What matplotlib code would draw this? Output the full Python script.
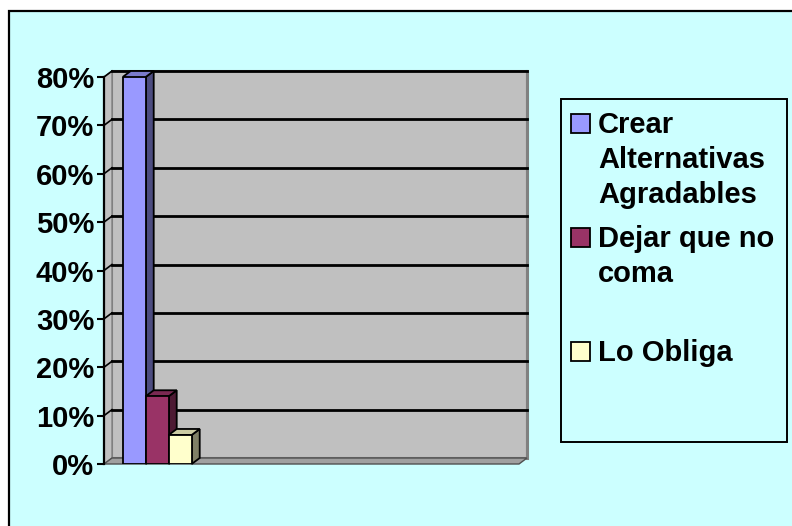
import matplotlib

matplotlib.use("Agg")
import matplotlib.pyplot as plt
from matplotlib.patches import Polygon, Rectangle
from matplotlib.ticker import PercentFormatter, MultipleLocator

# ---- data ----
series_labels = ["Crear\nAlternativas\nAgradables", "Dejar que no\ncoma", "Lo Obliga"]
values = [0.80, 0.14, 0.06]
face_colors = ["#9999FF", "#993366", "#FFFFCC"]
side_colors = ["#4D4D80", "#4D1A33", "#808066"]
top_colors = ["#7A7ACC", "#7A2952", "#CCCCA3"]
yticks = [0.0, 0.1, 0.2, 0.3, 0.4, 0.5, 0.6, 0.7, 0.8]

W, H = 792, 526
BG = "#CCFFFF"
WALL = "#C0C0C0"
EDGE = "#808080"

plt.rcParams["font.family"] = ["Liberation Sans", "DejaVu Sans"]
plt.rcParams["font.weight"] = "bold"

fig = plt.figure(figsize=(W / 100, H / 100), dpi=100)
fig.patch.set_facecolor("white")

# outer chart area (cyan with black frame, runs off the right/bottom edge)
fig.patches.append(Rectangle((9 / W, -0.02), 1.05, (H - 11) / H + 0.02,
                             transform=fig.transFigure, facecolor=BG,
                             edgecolor="black", linewidth=1.6, zorder=-2))

# front plane of the plot: x 104..519 px, y 464..77 px
ax = fig.add_axes([104 / W, (H - 464) / H, 415 / W, 387 / H])
ax.set_zorder(5)
ax.patch.set_visible(False)
xmin, xmax = -0.5, 3.4
ymin, ymax = 0.0, 0.8
ax.set_xlim(xmin, xmax)
ax.set_ylim(ymin, ymax)

# depth offset (8 px right, 6 px up) in data units
DX = 8 / 415 * (xmax - xmin)
DY = 6 / 387 * (ymax - ymin)


def poly(pts, fc, ec, lw=1.0, z=1):
    ax.add_patch(Polygon(pts, closed=True, facecolor=fc, edgecolor=ec,
                         linewidth=lw, zorder=z, clip_on=False))


# back wall
poly([(xmin + DX, DY), (xmax + DX, DY), (xmax + DX, ymax + DY),
      (xmin + DX, ymax + DY)], WALL, EDGE, lw=1.5, z=1)
ax.plot([xmax + DX, xmax + DX], [DY, ymax + DY], color=EDGE, lw=2.2,
        zorder=1.1, clip_on=False)
# side wall
poly([(xmin, 0), (xmin + DX, DY), (xmin + DX, ymax + DY), (xmin, ymax)],
     WALL, EDGE, lw=1.0, z=1)
# floor
poly([(xmin, 0), (xmax, 0), (xmax + DX, DY), (xmin + DX, DY)],
     "#A0A0A0", "#505050", lw=1.0, z=1.2)

# gridlines on back + side wall
for v in yticks[1:]:
    ax.plot([xmin + DX, xmax + DX], [v + DY, v + DY], color="black", lw=2.0,
            zorder=1.5, clip_on=False)
    ax.plot([xmin, xmin + DX], [v, v + DY], color="black", lw=1.2,
            zorder=1.5, clip_on=False)

# bars (one category, three series side by side)
bw = 23 / 415 * (xmax - xmin)
for i, (v, fc, sc, tc) in enumerate(zip(values, face_colors, side_colors, top_colors)):
    x0 = (i - 1) * bw - bw / 2
    x1 = x0 + bw
    z = 3 + i
    poly([(x1, 0), (x1 + DX, DY), (x1 + DX, v + DY), (x1, v)], sc, "black", 1.3, z)
    poly([(x0, v), (x1, v), (x1 + DX, v + DY), (x0 + DX, v + DY)], tc, "black", 1.3, z)
    ax.bar(x0, v, width=bw, align="edge", color=fc, edgecolor="black",
           linewidth=1.3, zorder=z + 0.5)

# axis
for s in ["top", "right", "bottom"]:
    ax.spines[s].set_visible(False)
ax.spines["left"].set_linewidth(1.6)
ax.spines["left"].set_zorder(10)
ax.set_xticks([])
ax.yaxis.set_major_locator(MultipleLocator(0.1))
ax.yaxis.set_major_formatter(PercentFormatter(1.0, decimals=0))
ax.tick_params(axis="y", length=5, width=1.5, pad=2, labelsize=21)
for lab in ax.get_yticklabels():
    lab.set_fontweight("bold")

# legend (drawn by hand to follow the Excel layout)
fig.patches.append(Rectangle((561 / W, (H - 442) / H), 226 / W, 343 / H,
                             transform=fig.transFigure, facecolor=BG,
                             edgecolor="black", linewidth=1.4, zorder=1))
entry_base = [133, 247, 361]
line_step = 35
for lab, fc, yb in zip(series_labels, face_colors, entry_base):
    fig.patches.append(Rectangle((571 / W, (H - yb) / H), 19 / W, 19 / H,
                                 transform=fig.transFigure, facecolor=fc,
                                 edgecolor="black", linewidth=1.3, zorder=2))
    for k, line in enumerate(lab.split("\n")):
        fig.text(598 / W, (H - yb - k * line_step) / H, line, ha="left",
                 va="baseline", fontsize=21, fontweight="bold", zorder=3)

fig.savefig("out.png", dpi=100, facecolor=fig.get_facecolor())
